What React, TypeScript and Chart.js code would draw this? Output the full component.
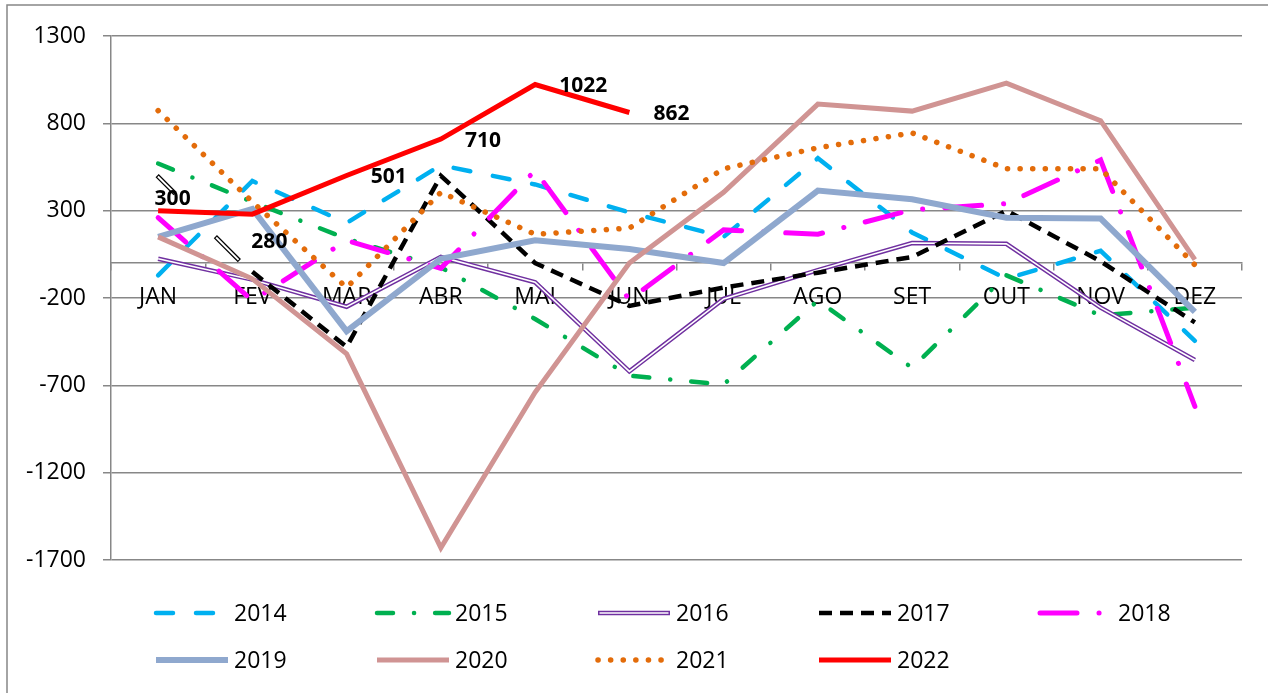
import React, { useEffect, useRef } from "react";
import { Chart, registerables } from "chart.js";

Chart.register(...registerables);

const months = ["JAN", "FEV", "MAR", "ABR", "MAI", "JUN", "JUL", "AGO", "SET", "OUT", "NOV", "DEZ"];
const years = ["2014", "2015", "2016", "2017", "2018", "2019", "2020", "2021", "2022"];

const v2014 = [-70, 470, 230, 560, 450, 290, 150, 600, 175, -90, 70, -445];
const v2015 = [570, 350, 140, -25, -320, -645, -695, -215, -600, -70, -300, -255];
const v2016 = [25, -95, -250, 35, -110, -620, -205, -40, 115, 110, -255, -555];
const v2017 = [null, -50, -480, 500, 0, -245, -140, -55, 35, 300, 10, -340];
const v2018 = [260, -215, 130, -30, 530, -210, 190, 165, 305, 340, 590, -820];
const v2019 = [150, 310, -390, 25, 130, 80, 0, 415, 365, 260, 255, -280];
const v2020 = [150, -90, -520, -1630, -740, 0, 405, 910, 870, 1030, 815, 20];
const v2021 = [873, 350, -140, 405, 165, 200, 540, 660, 745, 540, 540, -10];
const v2022 = [300, 280, 501, 710, 1022, 862, null, null, null, null, null, null];

const yMin = -1700;
const yMax = 1300;
const yStep = 500;

const FONT = "'Open Sans', 'Noto Sans', sans-serif";
const GRID = "#878787";

type Style = { color: string; width: number; dash: number[]; cap: CanvasLineCap; double?: boolean };

const styles: Style[] = [
  { color: "#00B0F0", width: 4.5, dash: [17, 23], cap: "round" },
  { color: "#00B050", width: 4.5, dash: [16, 21, 0.1, 21], cap: "round" },
  { color: "#7030A0", width: 4.5, dash: [], cap: "butt", double: true },
  { color: "#000000", width: 4.5, dash: [13, 8], cap: "butt" },
  { color: "#FF00FF", width: 5, dash: [37, 22, 0.1, 22], cap: "round" },
  { color: "#8FA8CE", width: 6, dash: [], cap: "butt" },
  { color: "#D09493", width: 5, dash: [], cap: "butt" },
  { color: "#E36C0A", width: 5.5, dash: [0.1, 12.5], cap: "round" },
  { color: "#FF0000", width: 5, dash: [], cap: "butt" },
];

const seriesValues = [v2014, v2015, v2016, v2017, v2018, v2019, v2020, v2021, v2022];

function drawSample(ctx: CanvasRenderingContext2D, st: Style, x1: number, x2: number, y: number) {
  ctx.save();
  ctx.beginPath();
  ctx.moveTo(x1, y);
  ctx.lineTo(x2, y);
  ctx.strokeStyle = st.color;
  ctx.lineWidth = st.width;
  ctx.lineCap = st.cap;
  ctx.setLineDash(st.dash);
  ctx.stroke();
  if (st.double) {
    ctx.beginPath();
    ctx.moveTo(x1 + 1.5, y);
    ctx.lineTo(x2 - 1.5, y);
    ctx.strokeStyle = "#FFFFFF";
    ctx.lineWidth = 1.6;
    ctx.setLineDash([]);
    ctx.stroke();
  }
  ctx.restore();
}

function drawLeader(ctx: CanvasRenderingContext2D, x1: number, y1: number, x2: number, y2: number) {
  ctx.save();
  ctx.lineCap = "butt";
  ctx.beginPath();
  ctx.moveTo(x1, y1);
  ctx.lineTo(x2, y2);
  ctx.strokeStyle = "#000000";
  ctx.lineWidth = 4.5;
  ctx.stroke();
  ctx.beginPath();
  ctx.moveTo(x1 + 0.8, y1 + 0.8);
  ctx.lineTo(x2 - 0.8, y2 - 0.8);
  ctx.strokeStyle = "#FFFFFF";
  ctx.lineWidth = 2;
  ctx.stroke();
  ctx.restore();
}

const decorPlugin = {
  id: "decor",
  beforeDraw(chart: any) {
    const ctx = chart.ctx as CanvasRenderingContext2D;
    ctx.save();
    ctx.fillStyle = "#FFFFFF";
    ctx.fillRect(0, 0, chart.width, chart.height);
    ctx.strokeStyle = GRID;
    ctx.lineWidth = 1.5;
    ctx.beginPath();
    ctx.moveTo(7, chart.height + 5);
    ctx.lineTo(7, 5);
    ctx.lineTo(chart.width + 5, 5);
    ctx.stroke();
    ctx.restore();
  },
  afterDatasetsDraw(chart: any) {
    const ctx = chart.ctx as CanvasRenderingContext2D;
    const dsIndex = chart.data.datasets.findIndex((d: any) => d.label === "2022");
    const meta = chart.getDatasetMeta(dsIndex);
    ctx.save();
    ctx.font = `bold 21px ${FONT}`;
    ctx.fillStyle = "#000000";
    ctx.textBaseline = "middle";
    v2022.forEach((v, i) => {
      if (v === null) return;
      const pt = meta.data[i];
      if (!pt) return;
      const x = pt.x;
      const y = pt.y;
      const text = String(v);
      if (i === 0) {
        drawLeader(ctx, x - 1, y - 35, x + 17, y - 17);
        ctx.textAlign = "center";
        ctx.fillText(text, x + 14.5, y - 11.5);
      } else if (i === 1) {
        drawLeader(ctx, x - 37, y + 22.5, x - 13, y + 46.5);
        ctx.textAlign = "center";
        ctx.fillText(text, x + 17, y + 27.5);
      } else {
        ctx.textAlign = "left";
        ctx.fillText(text, x + 24, y + 1.5);
      }
    });
    ctx.restore();

    ctx.save();
    ctx.font = `23px ${FONT}`;
    ctx.fillStyle = "#000000";
    ctx.textBaseline = "middle";
    ctx.textAlign = "left";
    years.forEach((yr, i) => {
      const col = i % 5;
      const row = Math.floor(i / 5);
      const tx = 234 + 221 * col;
      const ty = 613 + 47 * row;
      drawSample(ctx, styles[i], tx - 78, tx - 6, ty);
      ctx.fillText(yr, tx, ty + 1);
    });
    ctx.restore();
  },
};

export default function App() {
  const ref = useRef<HTMLCanvasElement | null>(null);

  useEffect(() => {
    document.body.style.margin = "0";
    const canvas = ref.current;
    if (!canvas) return;

    const datasets: any[] = [];
    years.forEach((yr, i) => {
      const st = styles[i];
      datasets.push({
        label: yr,
        data: seriesValues[i],
        borderColor: st.color,
        backgroundColor: st.color,
        borderWidth: st.width,
        borderDash: st.dash,
        borderCapStyle: st.cap,
        borderJoinStyle: "miter",
        pointRadius: 0,
        pointHoverRadius: 0,
        tension: 0,
        fill: false,
        spanGaps: false,
        order: 100 - i * 10,
      });
      if (st.double) {
        datasets.push({
          label: yr + " inner",
          data: seriesValues[i],
          borderColor: "#FFFFFF",
          borderWidth: 1.6,
          pointRadius: 0,
          pointHoverRadius: 0,
          tension: 0,
          fill: false,
          borderJoinStyle: "miter",
          order: 100 - i * 10 - 1,
        });
      }
    });

    const chart = new Chart(canvas, {
      type: "line",
      data: { labels: months, datasets },
      plugins: [decorPlugin],
      options: {
        responsive: false,
        animation: false,
        devicePixelRatio: 1,
        layout: { padding: { left: 0, top: 36, right: 26, bottom: 133 } },
        plugins: {
          legend: { display: false },
          tooltip: { enabled: false },
          title: { display: false },
        },
        scales: {
          x: {
            type: "category",
            position: { y: 0 } as any,
            offset: true,
            grid: {
              drawOnChartArea: false,
              drawTicks: true,
              tickLength: 7,
              color: GRID,
              lineWidth: 1.5,
              offset: true,
            },
            border: { color: GRID, width: 1.5 },
            ticks: {
              color: "#000000",
              font: { family: FONT, size: 23 },
              padding: 14,
              maxRotation: 0,
              autoSkip: false,
            },
          },
          y: {
            type: "linear",
            min: yMin,
            max: yMax,
            grid: { color: GRID, lineWidth: 1.5, tickLength: 8, drawTicks: true },
            border: { color: GRID, width: 1.5 },
            ticks: {
              stepSize: yStep,
              color: "#000000",
              font: { family: FONT, size: 23 },
              padding: 17,
              callback: (v: any) => String(v),
            },
            afterFit: (s: any) => {
              s.width = 111;
            },
          },
        },
      },
    });

    return () => {
      chart.destroy();
    };
  }, []);

  return (
    <div style={{ position: "absolute", left: 0, top: 0, width: 1268, height: 693, background: "#fff" }}>
      <canvas ref={ref} width={1268} height={693} style={{ display: "block" }} />
    </div>
  );
}
